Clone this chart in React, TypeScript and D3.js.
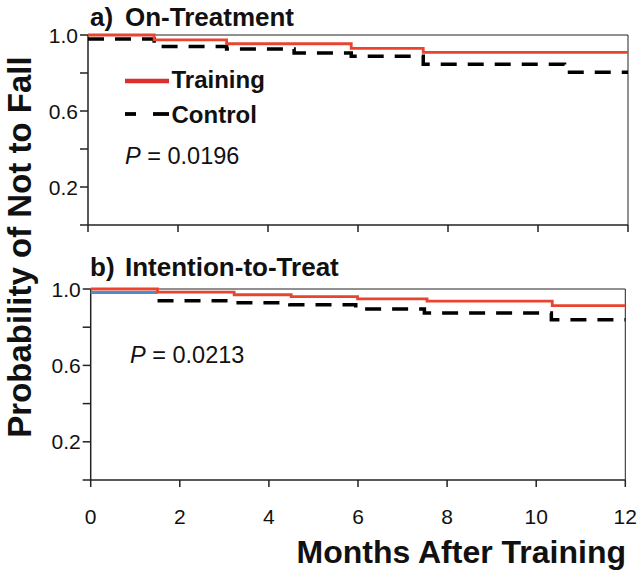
import React from "react";
import * as d3 from "d3";

// ---- Data ----
const monthTicks = [0, 2, 4, 6, 8, 10, 12];
const probTicks = [0, 0.2, 0.4, 0.6, 0.8, 1.0];
const probLabels = [0.2, 0.6, 1.0];

// Panel a) On-Treatment
const aTrainMonths = [0, 1.47, 3.08, 5.85, 7.45, 12];
const aTrainProb = [1.0, 0.974, 0.954, 0.93, 0.909, 0.909];
const aCtrlMonths = [0, 1.47, 3.08, 4.58, 5.85, 7.45, 10.59, 12];
const aCtrlProb = [0.979, 0.94, 0.926, 0.905, 0.888, 0.846, 0.804, 0.804];

// Panel b) Intention-to-Treat
const bTrainMonths = [0, 1.5, 3.22, 4.5, 5.99, 7.55, 10.36, 12];
const bTrainProb = [1.0, 0.984, 0.97, 0.96, 0.948, 0.937, 0.913, 0.913];
const bCtrlMonths = [1.5, 3.14, 4.47, 5.95, 7.49, 10.34, 12];
const bCtrlProb = [0.939, 0.928, 0.918, 0.895, 0.874, 0.839, 0.839];
const bBlueMonths = [0, 1.5];
const bBlueProb = [0.982, 0.982];

const FONT = "'Liberation Sans', Arial, Helvetica, sans-serif";
const RED = "#e8442f";
const BLUE = "#4f8ccc";

type Pt = [number, number];
const zip = (xs: number[], ys: number[]): Pt[] => xs.map((x, i) => [x, ys[i]]);

function Panel({
  x0, x1, yTop, yBot, train, ctrl, blue, showXLabels,
}: {
  x0: number; x1: number; yTop: number; yBot: number;
  train: Pt[]; ctrl: Pt[]; blue?: Pt[]; showXLabels: boolean;
}) {
  const x = d3.scaleLinear().domain([0, 12]).range([x0, x1]);
  const y = d3.scaleLinear().domain([0, 1]).range([yBot, yTop]);
  const line = d3.line<Pt>().x((d) => x(d[0])).y((d) => y(d[1])).curve(d3.curveStepAfter);
  return (
    <g>
      {/* frame */}
      <line x1={x0} x2={x1} y1={yTop} y2={yTop} stroke="#222" strokeWidth={1} />
      <line x1={x1} x2={x1} y1={yTop} y2={yBot} stroke="#222" strokeWidth={1} />
      <line x1={x0} x2={x0} y1={yTop} y2={yBot} stroke="#222" strokeWidth={1.5} />
      <line x1={x0} x2={x1} y1={yBot} y2={yBot} stroke="#222" strokeWidth={1.5} />
      {probTicks.map((p) => (
        <line key={"yt" + p} x1={x0 - 8} x2={x0} y1={y(p)} y2={y(p)} stroke="#222" strokeWidth={1.5} />
      ))}
      {probLabels.map((p) => (
        <text key={"yl" + p} x={x0 - 10} y={y(p)} dy="0.36em" textAnchor="end"
          fontFamily={FONT} fontSize={21} fill="#111">{p.toFixed(1)}</text>
      ))}
      {monthTicks.map((m) => (
        <line key={"xt" + m} x1={x(m)} x2={x(m)} y1={yBot} y2={yBot + 7} stroke="#222" strokeWidth={1.5} />
      ))}
      {showXLabels && monthTicks.map((m) => (
        <text key={"xl" + m} x={x(m)} y={yBot + 44} textAnchor="middle"
          fontFamily={FONT} fontSize={21} fill="#111">{m}</text>
      ))}
      {blue && <path d={line(blue) || ""} fill="none" stroke={BLUE} strokeWidth={3} />}
      <path d={line(ctrl) || ""} fill="none" stroke="#000" strokeWidth={3.5} strokeDasharray="16,11" />
      <path d={line(train) || ""} fill="none" stroke={RED} strokeWidth={2.8} />
    </g>
  );
}

export default function App() {
  return (
    <svg width={640} height={576} style={{ position: "absolute", left: 0, top: 0, background: "#fff" }}>
      <rect width={640} height={576} fill="#fff" />
      <text x={90} y={26} fontFamily={FONT} fontSize={26} fontWeight="bold" fill="#111">a)</text>
      <text x={125} y={26} fontFamily={FONT} fontSize={26} fontWeight="bold" fill="#111">On-Treatment</text>
      <Panel x0={88} x1={628} yTop={35} yBot={225}
        train={zip(aTrainMonths, aTrainProb)} ctrl={zip(aCtrlMonths, aCtrlProb)} showXLabels={false} />
      {/* legend */}
      <line x1={125} x2={169} y1={81} y2={81} stroke="#dd2e2e" strokeWidth={4.5} />
      <text x={171.5} y={88.3} fontFamily={FONT} fontSize={24} fontWeight="bold" fill="#111">Training</text>
      <line x1={125} x2={136} y1={114} y2={114} stroke="#000" strokeWidth={3.8} />
      <line x1={153} x2={169} y1={114} y2={114} stroke="#000" strokeWidth={3.8} />
      <text x={171.5} y={123.3} fontFamily={FONT} fontSize={24} fontWeight="bold" fill="#111">Control</text>
      <text x={125} y={163.5} fontFamily={FONT} fontSize={23.5} fill="#111">
        <tspan fontStyle="italic">P</tspan> = 0.0196
      </text>

      <text x={90} y={276} fontFamily={FONT} fontSize={26} fontWeight="bold" fill="#111">b)</text>
      <text x={125} y={276} fontFamily={FONT} fontSize={26} fontWeight="bold" fill="#111">Intention-to-Treat</text>
      <Panel x0={90.7} x1={625.3} yTop={289} yBot={480}
        train={zip(bTrainMonths, bTrainProb)} ctrl={zip(bCtrlMonths, bCtrlProb)}
        blue={zip(bBlueMonths, bBlueProb)} showXLabels={true} />
      <text x={130} y={363.3} fontFamily={FONT} fontSize={23.5} fill="#111">
        <tspan fontStyle="italic">P</tspan> = 0.0213
      </text>

      <text transform="translate(31,247) rotate(-90)" textAnchor="middle" fontFamily={FONT}
        fontSize={33} fontWeight="bold" fill="#111">Probability of Not to Fall</text>
      <text x={626} y={563} textAnchor="end" fontFamily={FONT} fontSize={32} fontWeight="bold" fill="#111">
        Months After Training
      </text>
    </svg>
  );
}
